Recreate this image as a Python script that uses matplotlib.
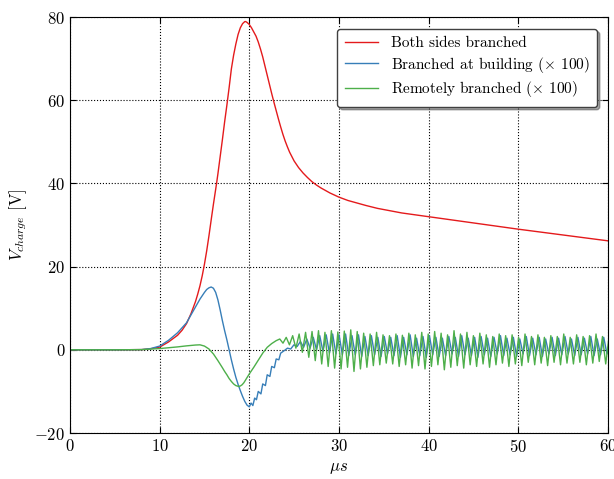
import numpy as np
import matplotlib
matplotlib.use('Agg')
import matplotlib.pyplot as plt

plt.rcParams['font.family'] = 'serif'
plt.rcParams['font.serif'] = ['cmr10', 'DejaVu Serif']
plt.rcParams['mathtext.fontset'] = 'cm'
plt.rcParams['axes.formatter.use_mathtext'] = True
plt.rcParams['axes.unicode_minus'] = True

# Both sides branched (smooth)
t_red = [0, 5, 8, 9, 10, 11, 12, 12.5, 13, 13.5, 14, 14.25, 14.5, 14.75, 15, 15.25, 15.5,
         15.8, 16, 16.35, 16.5, 17, 17.25, 17.5, 17.75, 18, 18.25, 18.5, 18.75, 19, 19.25,
         19.5, 19.6, 19.75, 20, 20.25, 20.5, 20.75, 21, 21.25, 21.5, 21.75, 22, 22.25,
         22.5, 22.75, 23, 23.25, 23.5, 23.75, 24, 24.25, 24.5, 25, 25.5, 26, 26.5, 27,
         27.5, 28, 29, 30, 31, 32, 33, 34.3, 37, 40, 45, 50, 55, 60]
v_red = [0, 0, 0.05, 0.25, 0.65, 1.9, 3.5, 4.7, 6.3, 8.7, 11.6, 13.4, 15.4, 17.8, 20.6,
         23.8, 27.4, 32.0, 35.0, 40.0, 42.3, 50.5, 54.8, 58.8, 63.0, 67.5, 70.8, 73.5,
         75.8, 77.4, 78.4, 78.9, 78.9, 78.7, 78.2, 77.4, 76.4, 75.4, 74.0, 72.3, 70.4,
         68.2, 66.0, 63.8, 61.6, 59.5, 57.5, 55.5, 53.6, 51.8, 50.2, 48.8, 47.5, 45.4,
         43.8, 42.5, 41.4, 40.4, 39.6, 38.9, 37.7, 36.7, 35.9, 35.3, 34.7, 34.0, 32.9,
         32.0, 30.5, 29.0, 27.6, 26.2]

# Branched at building (x 100), smooth part then ringing
t_blue = [0, 5, 8, 9, 10, 11, 12, 13, 13.5, 14, 14.5, 15, 15.25, 15.5, 15.75, 16, 16.25,
          16.5, 16.75, 17, 17.25, 17.5, 17.75, 18, 18.25, 18.5, 18.75, 19, 19.25, 19.5,
          19.75, 20.0, 20.2, 20.4, 20.6, 20.8, 21.0, 21.3, 21.5, 21.8, 22.0, 22.3, 22.5,
          22.8, 23.0, 23.3, 23.5]
v_blue = [0, 0, 0.05, 0.3, 0.9, 2.3, 4.1, 6.5, 8.4, 10.3, 12.2, 13.8, 14.5, 14.9, 15.1,
          14.8, 13.8, 12.0, 9.6, 7.0, 4.6, 2.4, 0.0, -2.4, -4.6, -6.6, -8.3, -9.8, -11.2,
          -12.4, -13.3, -13.7, -12.8, -13.4, -11.6, -12.0, -10.0, -10.6, -8.2, -8.6, -6.0,
          -6.4, -4.0, -4.3, -2.2, -2.4, -0.8]
blue_osc = [-0.2, 0.4, 0.2, 1.2, 0.8, 2.0, 0.6, 2.6, 0.4, 3.0, 0.0, 3.4, -0.4, 3.6, -0.8,
            3.8, -1.0, 3.6, -1.2, 3.8, -1.4, 3.4, -1.2, 3.6, -1.6, 3.2, -1.4, 3.4, -1.2,
            3.0, -1.6, 3.2, -1.0, 3.0, -1.4, 3.4, -1.8, 3.0, -1.2, 3.6, -1.6, 2.8, -1.4,
            3.2, -1.8, 3.4, -1.2, 3.0, -1.6, 2.8, -1.4, 3.2, -1.0, 3.0, -1.6, 3.4, -1.2,
            2.8, -1.4, 3.0, -1.8, 3.2, -1.2, 2.8, -1.6, 3.0, -1.0, 3.4, -1.4, 2.8, -1.2,
            3.0, -1.6, 2.6, -1.0, 3.2, -1.4, 2.8, -1.2, 3.0, -1.6, 2.6, -1.0, 3.0, -1.4,
            2.8, -1.2, 3.2, -1.0, 2.6, -1.4, 3.0, -1.2, 2.8, -1.0, 3.2, -1.4, 2.6, -1.2,
            3.0, -1.0, 2.8, -1.2]

# Remotely branched (x 100), smooth part then ringing
t_green = [0, 5, 8, 10, 12, 13, 14, 14.5, 15, 15.5, 16, 16.5, 17, 17.25, 17.5, 17.75, 18,
           18.25, 18.5, 18.8, 19.0, 19.2, 19.4, 19.6, 20, 20.5, 21, 21.5, 22, 22.5, 23]
v_green = [0, 0, 0.05, 0.3, 0.7, 0.95, 1.15, 1.2, 0.9, 0.2, -1.0, -2.6, -4.3, -5.2, -6.0,
           -6.9, -7.6, -8.2, -8.6, -8.8, -8.7, -8.4, -7.9, -7.2, -5.8, -4.2, -2.5, -0.8,
           0.6, 1.5, 2.2]
green_osc = [2.6, 1.6, 3.0, 1.2, 3.4, 0.4, 3.8, -0.6, 4.2, -1.8, 4.4, -2.6, 4.6, -3.4, 4.2,
             -4.0, 4.6, -4.4, 4.3, -4.6, 4.5, -4.2, 4.8, -5.2, 4.4, -4.6, 4.0, -4.2, 3.8,
             -3.8, 4.2, -3.6, 3.6, -3.2, 3.4, -3.4, 3.8, -4.0, 3.5, -3.6, 4.0, -4.4, 3.6,
             -3.8, 4.2, -4.6, 3.8, -4.0, 4.4, -3.6, 4.0, -4.8, 3.6, -4.2, 4.6, -3.8, 3.8,
             -4.4, 4.2, -3.6, 3.4, -4.0, 4.0, -3.4, 3.6, -4.2, 3.2, -3.6, 3.8, -3.2, 3.4,
             -4.0, 3.6, -3.4, 3.0, -3.8, 3.8, -3.0, 3.2, -3.6, 3.6, -3.2, 3.0, -3.8, 3.4,
             -3.0, 3.2, -3.6, 3.8, -3.2, 3.0, -3.4, 3.6, -3.0, 3.2, -3.6, 3.4, -3.2, 3.8,
             -2.8, 3.2, -3.4, 3.0]

half_period = 0.36
tb = np.concatenate([t_blue, 23.9 + half_period * np.arange(len(blue_osc))])
vb = np.concatenate([v_blue, blue_osc])
tg = np.concatenate([t_green, 23.4 + half_period * np.arange(len(green_osc))])
vg = np.concatenate([v_green, green_osc])

fig = plt.figure(figsize=(6.14, 4.79), dpi=100)
ax = fig.add_axes([0.114, 0.096, 0.876, 0.8685])

ax.plot(t_red, v_red, color='#e41a1c', lw=1.0, label='Both sides branched')
ax.plot(tb, vb, color='#377eb8', lw=1.0, label=r'Branched at building ($\times$ 100)')
ax.plot(tg, vg, color='#4daf4a', lw=1.0, label=r'Remotely branched ($\times$ 100)')

ax.set_xlim(0, 60)
ax.set_ylim(-20, 80)
ax.set_xticks([0, 10, 20, 30, 40, 50, 60])
ax.set_yticks([-20, 0, 20, 40, 60, 80])
ax.tick_params(direction='in', top=True, right=True, length=4, labelsize=12)
ax.grid(True, color='black', linestyle=':', linewidth=0.8)
ax.set_xlabel(r'$\mu s$', fontsize=12)
ax.set_ylabel(r'$V_{charge}$ [V]', fontsize=12)

ax.legend(loc='upper right', fontsize=11, fancybox=True, shadow=True, framealpha=1,
          edgecolor='0.25', handlelength=2.2, labelspacing=0.3, borderpad=0.5,
          bbox_to_anchor=(0.994, 0.99))

fig.savefig('out.png', dpi=100)
